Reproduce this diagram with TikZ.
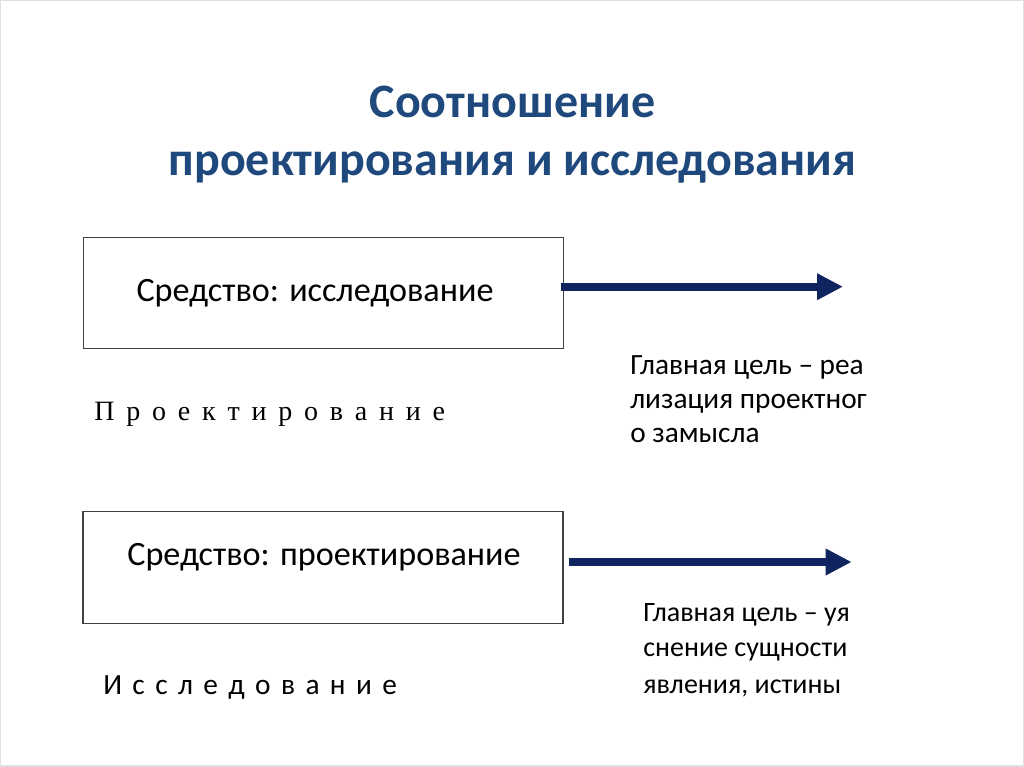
\documentclass[tikz,border=0pt]{standalone}
\usepackage{fontspec}
\setmainfont{Carlito}
\newfontfamily\timesf{Liberation Serif}
\usetikzlibrary{arrows.meta}
\definecolor{titleblue}{RGB}{31,73,125}
\definecolor{navy}{RGB}{16,36,96}
\newlength{\gapP}\setlength{\gapP}{8.85pt}
\newlength{\gapI}\setlength{\gapI}{7.8pt}
\begin{document}
\begin{tikzpicture}[x=0.75pt,y=-0.75pt,
  titletxt/.style={font=\fontsize{36pt}{42pt}\selectfont\bfseries, text=titleblue, anchor=base, inner sep=0pt},
  boxshape/.style={draw=black!75, line width=0.9pt, inner sep=0pt, outer sep=0pt, minimum width=360pt, minimum height=83.5pt},
  boxtxt/.style={font=\fontsize{25.6pt}{30pt}\selectfont, anchor=base, inner sep=0pt},
  goalA/.style={font=\fontsize{22pt}{26pt}\selectfont, anchor=base west, inner sep=0pt},
  goalB/.style={font=\fontsize{21pt}{25pt}\selectfont, anchor=base west, inner sep=0pt},
  sptimes/.style={font=\timesf\fontsize{21pt}{25pt}\selectfont, anchor=base west, inner sep=0pt},
  spsans/.style={font=\fontsize{22pt}{26pt}\selectfont, anchor=base west, inner sep=0pt},
  arr/.style={draw=navy, line width=6pt, -{Triangle[length=19.5pt,width=18.75pt]}}
]
\useasboundingbox (0,0) rectangle (1024,767);
\draw[black!12, line width=1pt] (0.5,0.5) rectangle (1023.5,766);

% title
\node[titletxt] (t1) at (512.5,117.5) {Соотношение};
\node[titletxt] (t2) at (512.5,175.5) {проектирования и исследования};

% boxes
\node[boxshape] (b1) at (323.3,292.8) {};
\node[boxtxt] (b1t) at (315,301.5) {Средство: исследование};
\node[boxshape] (b2) at (323,567.5) {};
\node[boxtxt] (b2t) at (324,565.5) {Средство: проектирование};

% arrows
\coordinate (a1s) at (561,286.7);
\coordinate (a1e) at (843,286.7);
\draw[arr] (a1s) -- (a1e);
\coordinate (a2s) at (569,562);
\coordinate (a2e) at (851.7,562);
\draw[arr] (a2s) -- (a2e);

% goals
\node[goalA] (g1a) at (630,374.5) {Главная цель – реа};
\node[goalA] (g1b) at (630,408.5) {лизация проектног};
\node[goalA] (g1c) at (630,442.5) {о замысла};
\node[goalB] (g2a) at (643,621) {Главная цель – уя};
\node[goalB] (g2b) at (643,656) {снение сущности};
\node[goalB] (g2c) at (643,693) {явления, истины};

% spaced labels
\node[sptimes] (p) at (94,420) {П\hspace{\gapP}р\hspace{\gapP}о\hspace{\gapP}е\hspace{\gapP}к\hspace{\gapP}т\hspace{\gapP}и\hspace{\gapP}р\hspace{\gapP}о\hspace{\gapP}в\hspace{\gapP}а\hspace{\gapP}н\hspace{\gapP}и\hspace{\gapP}е};
\node[spsans] (i) at (103,694.5) {И\hspace{\gapI}с\hspace{\gapI}с\hspace{\gapI}л\hspace{\gapI}е\hspace{\gapI}д\hspace{\gapI}о\hspace{\gapI}в\hspace{\gapI}а\hspace{\gapI}н\hspace{\gapI}и\hspace{\gapI}е};
\end{tikzpicture}
\end{document}
